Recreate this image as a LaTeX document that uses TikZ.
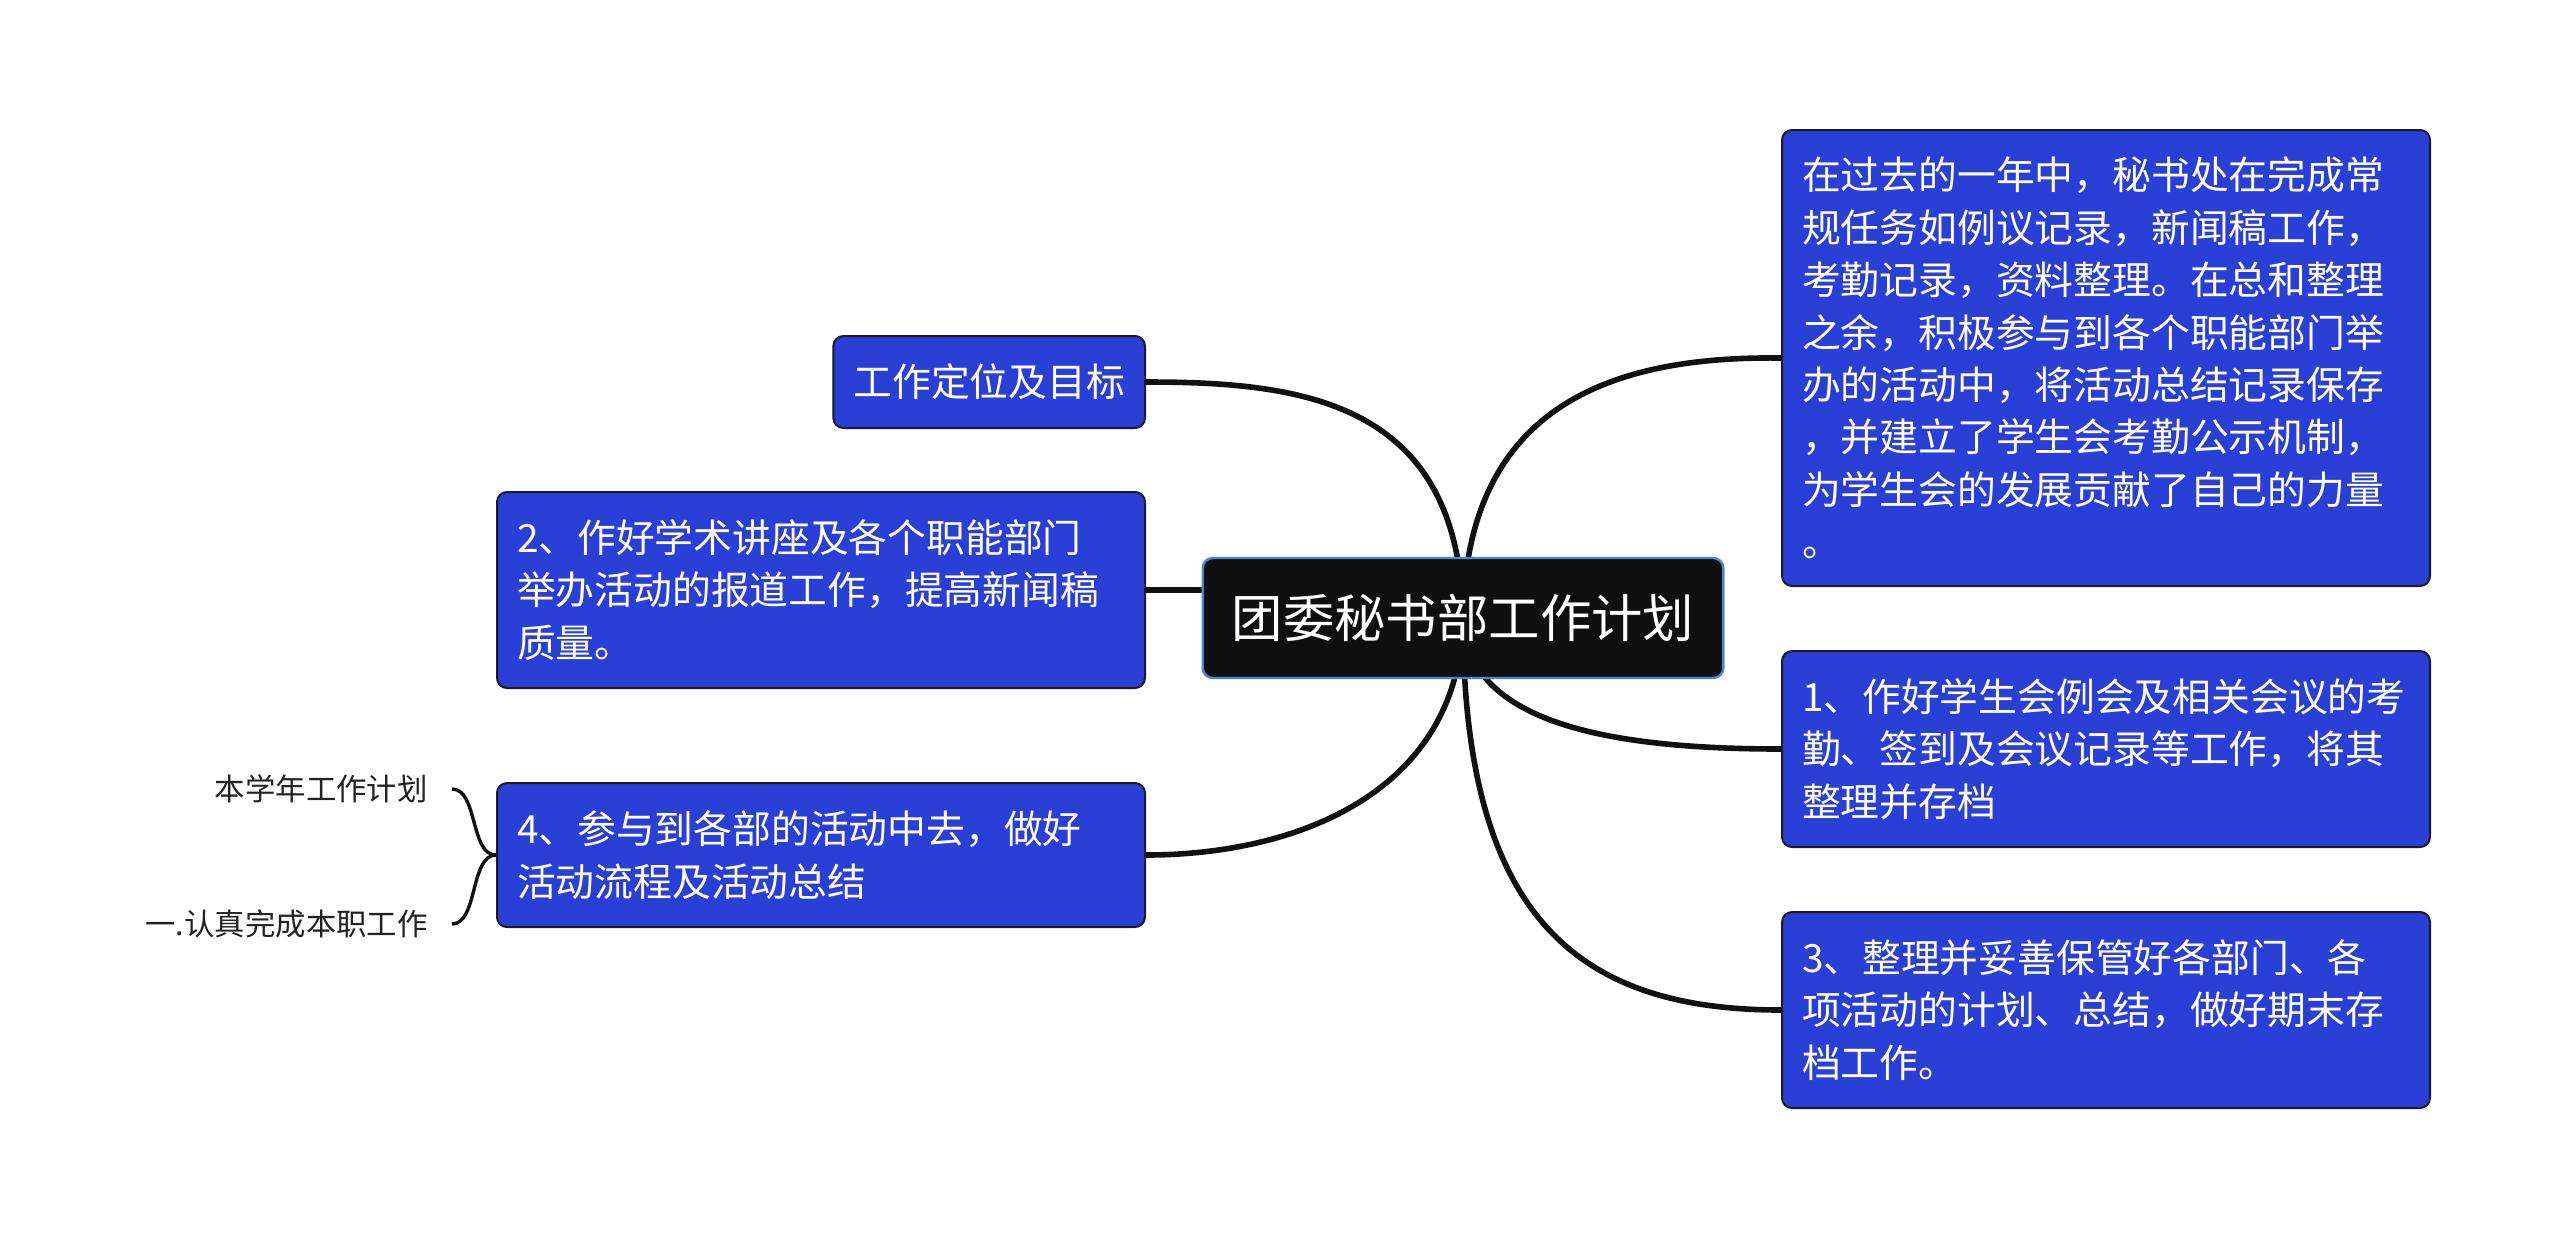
\documentclass[tikz,border=0pt]{standalone}
\usepackage{fontspec}
\setmainfont{Noto Sans CJK SC}
\definecolor{boxblue}{HTML}{2A3FD6}
\definecolor{boxline}{HTML}{1A1A2A}
\definecolor{rootfill}{HTML}{0F0F0F}
\definecolor{rootline}{HTML}{4A86DC}
\definecolor{linkc}{HTML}{111111}
\definecolor{smalltext}{HTML}{222222}
\pgfdeclarelayer{bg}
\pgfsetlayers{bg,main}
\begin{document}
\begin{tikzpicture}[x=0.5pt,y=-0.5pt,
  box/.style={draw=boxline, line width=1pt, fill=boxblue, rounded corners=5pt,
    text=white, font=\fontsize{19.4pt}{26.2pt}\selectfont,
    inner xsep=10pt, inner ysep=0pt, align=left},
  widebox/.style={box, text width=304pt},
  rootbox/.style={draw=rootline, line width=1.2pt, fill=rootfill, rounded corners=5pt,
    text=white, font=\fontsize{25.7pt}{30pt}\selectfont,
    inner xsep=14.5pt, inner ysep=0pt, minimum height=60pt},
  small/.style={text=smalltext, font=\fontsize{15.2pt}{18pt}\selectfont, inner sep=0pt},
  link/.style={draw=linkc, line width=2.8pt},
  thinlink/.style={draw=linkc, line width=1.7pt}
]
\useasboundingbox (0,0) rectangle (2560,1239);

\node[rootbox] (root) at (1463,618) {团委秘书部工作计划};

\node[widebox, anchor=west, minimum height=228pt] (rt) at (1781,358)
  {在过去的一年中，秘书处在完成常\\规任务如例议记录，新闻稿工作，\\考勤记录，资料整理。在总和整理\\之余，积极参与到各个职能部门举\\办的活动中，将活动总结记录保存\\，并建立了学生会考勤公示机制，\\为学生会的发展贡献了自己的力量\\。};
\node[widebox, anchor=west, minimum height=98pt] (rm) at (1781,749)
  {1、作好学生会例会及相关会议的考\\勤、签到及会议记录等工作，将其\\整理并存档};
\node[widebox, anchor=west, minimum height=98pt] (rb) at (1781,1010)
  {3、整理并妥善保管好各部门、各\\项活动的计划、总结，做好期末存\\档工作。};

\node[box, anchor=east, minimum height=46pt] (lt) at (1146,382) {工作定位及目标};
\node[widebox, anchor=east, minimum height=98pt] (l2) at (1146,590)
  {2、作好学术讲座及各个职能部门\\举办活动的报道工作，提高新闻稿\\质量。};
\node[widebox, anchor=east, minimum height=72pt] (l4) at (1146,855)
  {4、参与到各部的活动中去，做好\\活动流程及活动总结};

\node[small, anchor=east] (s1) at (428,789) {本学年工作计划};
\node[small, anchor=east] (s2) at (428,924) {一.认真完成本职工作};

\begin{pgfonlayer}{bg}
  \fill[white] (0,0) rectangle (2560,1239);
  \draw[link] (root.center) .. controls (1460,400) and (1300,382) .. (lt.east);
  \draw[link] (l2.east) -- (l2.east -| root.west);
  \draw[link] (root.center) .. controls (1460,790) and (1300,855) .. (l4.east);
  \draw[link] (root.center) .. controls (1466,400) and (1620,356) .. (rt.west);
  \draw[link] (root.center) .. controls (1466,720) and (1600,749) .. (rm.west);
  \draw[link] (root.center) .. controls (1463,920) and (1580,1010) .. (rb.west);
\end{pgfonlayer}

\coordinate (b1) at ([xshift=12]s1.east);
\coordinate (b2) at ([xshift=12]s2.east);
\draw[thinlink] (l4.west) .. controls (470,855) and (478,789) .. (b1);
\draw[thinlink] (l4.west) .. controls (470,855) and (478,924) .. (b2);
\end{tikzpicture}
\end{document}
